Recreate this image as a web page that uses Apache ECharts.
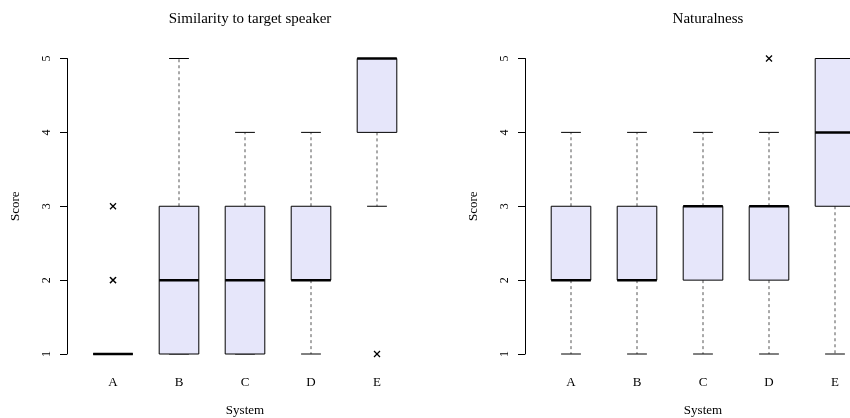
<!DOCTYPE html>
<html>
<head>
<meta charset="utf-8">
<script src="https://cdn.jsdelivr.net/npm/echarts@6/dist/echarts.min.js"></script>
<style>html,body{margin:0;padding:0;background:#fff;}#c{width:850px;height:418px;}</style>
</head>
<body>
<div id="c"></div>
<script>
const categories = ['A', 'B', 'C', 'D', 'E'];
const yTicks = [1, 2, 3, 4, 5];

// Similarity to target speaker
const simMin = [1, 1, 1, 1, 3];
const simQ1 = [1, 1, 1, 2, 4];
const simMedian = [1, 2, 2, 2, 5];
const simQ3 = [1, 3, 3, 3, 5];
const simMax = [1, 5, 4, 4, 5];
const simOutliers = [[0, 2], [0, 2], [0, 3], [4, 1]];

// Naturalness
const natMin = [1, 1, 1, 1, 1];
const natQ1 = [2, 2, 2, 2, 3];
const natMedian = [2, 2, 3, 3, 4];
const natQ3 = [3, 3, 3, 3, 5];
const natMax = [4, 4, 4, 4, 5];
const natOutliers = [[3, 5]];

const FONT = 'Liberation Serif';

function boxData(mn, q1, md, q3, mx) {
  return categories.map((c, i) => [i, mn[i], q1[i], md[i], q3[i], mx[i]]);
}

function renderBox(params, api) {
  const xi = api.value(0);
  const lo = api.value(1), q1 = api.value(2), med = api.value(3), q3 = api.value(4), hi = api.value(5);
  const bw = api.size([1, 0])[0] * 0.6;
  const cx = api.coord([xi, med])[0];
  const py = v => api.coord([xi, v])[1];
  const children = [];
  const dash = { stroke: '#555', lineWidth: 1, lineDash: [3, 3] };
  const solid = { stroke: '#000', lineWidth: 1 };
  if (lo < q1) children.push({ type: 'line', shape: { x1: cx, y1: py(q1), x2: cx, y2: py(lo) }, style: dash });
  if (hi > q3) children.push({ type: 'line', shape: { x1: cx, y1: py(q3), x2: cx, y2: py(hi) }, style: dash });
  children.push({ type: 'line', shape: { x1: cx - bw / 4, y1: py(lo), x2: cx + bw / 4, y2: py(lo) }, style: solid });
  children.push({ type: 'line', shape: { x1: cx - bw / 4, y1: py(hi), x2: cx + bw / 4, y2: py(hi) }, style: solid });
  children.push({ type: 'rect', shape: { x: cx - bw / 2, y: py(q3), width: bw, height: py(q1) - py(q3) },
    style: { fill: '#E6E6FA', stroke: '#000', lineWidth: 1 } });
  children.push({ type: 'line', shape: { x1: cx - bw / 2, y1: py(med), x2: cx + bw / 2, y2: py(med) },
    style: { stroke: '#000', lineWidth: 2.5 } });
  return { type: 'group', children: children };
}

function renderCross(params, api) {
  const p = api.coord([api.value(0), api.value(1)]);
  const s = 3;
  const st = { stroke: '#000', lineWidth: 1.2 };
  return { type: 'group', children: [
    { type: 'line', shape: { x1: p[0] - s, y1: p[1] - s, x2: p[0] + s, y2: p[1] + s }, style: st },
    { type: 'line', shape: { x1: p[0] - s, y1: p[1] + s, x2: p[0] + s, y2: p[1] - s }, style: st }
  ] };
}

function xAxisCfg(gi) {
  return {
    type: 'category', gridIndex: gi, data: categories,
    axisLine: { show: false }, axisTick: { show: false },
    axisLabel: { margin: 22, fontFamily: FONT, fontSize: 13, color: '#000' },
    name: 'System', nameLocation: 'middle', nameGap: 50,
    nameTextStyle: { fontFamily: FONT, fontSize: 13, color: '#000' }
  };
}
function yAxisCfg(gi) {
  return {
    type: 'value', gridIndex: gi, min: yTicks[0], max: yTicks[yTicks.length - 1], interval: 1,
    offset: 13,
    axisLine: { show: true, lineStyle: { color: '#000', width: 1 } },
    axisTick: { show: true, length: 7, lineStyle: { color: '#000' } },
    splitLine: { show: false },
    axisLabel: { rotate: 90, margin: 14, fontFamily: FONT, fontSize: 12, color: '#000' },
    name: 'Score', nameLocation: 'middle', nameGap: 45, nameRotate: 90,
    nameTextStyle: { fontFamily: FONT, fontSize: 13, color: '#000' }
  };
}

const chart = echarts.init(document.getElementById('c'), null, { renderer: 'canvas' });
chart.setOption({
  backgroundColor: '#fff',
  animation: false,
  title: [
    { text: 'Similarity to target speaker', left: 245, top: 7, textAlign: 'center',
      textStyle: { fontFamily: FONT, fontSize: 15, fontWeight: 'normal', color: '#000' } },
    { text: 'Naturalness', left: 703, top: 7, textAlign: 'center',
      textStyle: { fontFamily: FONT, fontSize: 15, fontWeight: 'normal', color: '#000' } }
  ],
  grid: [
    { left: 80, top: 58.5, width: 330, height: 295.5, outerBoundsMode: 'none', containLabel: false },
    { left: 538, top: 58.5, width: 330, height: 295.5, outerBoundsMode: 'none', containLabel: false }
  ],
  xAxis: [xAxisCfg(0), xAxisCfg(1)],
  yAxis: [yAxisCfg(0), yAxisCfg(1)],
  series: [
    { type: 'custom', xAxisIndex: 0, yAxisIndex: 0, renderItem: renderBox, clip: false,
      encode: { x: 0, y: [1, 2, 3, 4, 5] }, data: boxData(simMin, simQ1, simMedian, simQ3, simMax) },
    { type: 'custom', xAxisIndex: 0, yAxisIndex: 0, renderItem: renderCross, clip: false,
      encode: { x: 0, y: 1 }, data: simOutliers },
    { type: 'custom', xAxisIndex: 1, yAxisIndex: 1, renderItem: renderBox, clip: false,
      encode: { x: 0, y: [1, 2, 3, 4, 5] }, data: boxData(natMin, natQ1, natMedian, natQ3, natMax) },
    { type: 'custom', xAxisIndex: 1, yAxisIndex: 1, renderItem: renderCross, clip: false,
      encode: { x: 0, y: 1 }, data: natOutliers }
  ]
});
</script>
</body>
</html>
